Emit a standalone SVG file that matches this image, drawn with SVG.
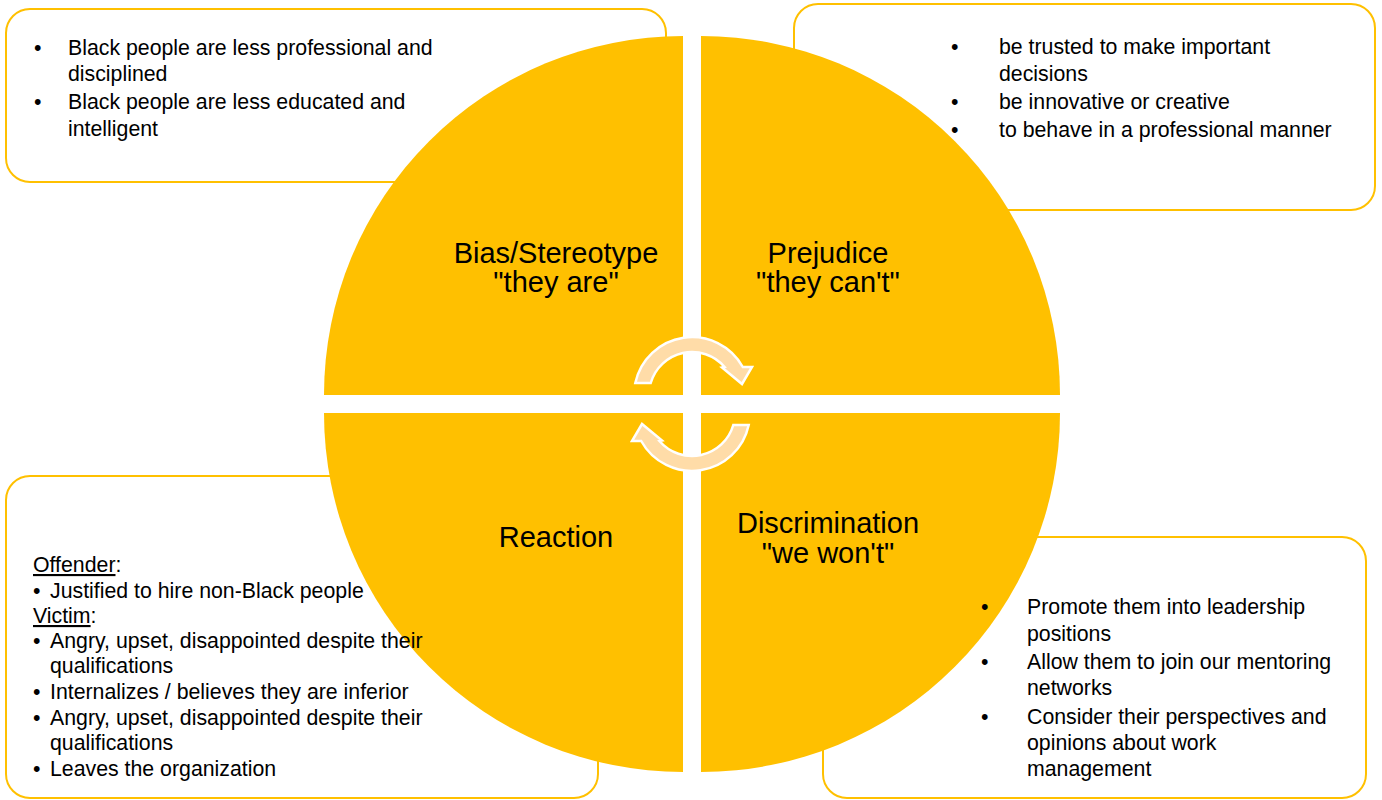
<svg xmlns="http://www.w3.org/2000/svg" width="1382" height="800" viewBox="0 0 1382 800">
<style>
.box{fill:#ffffff;stroke:#FFC000;stroke-width:2}
.q{fill:#FFC000}
.arr{fill:#FFDCA8;stroke:#ffffff;stroke-width:2.5;stroke-linejoin:miter}
.lbl{font-family:"Liberation Sans",Arial,sans-serif;font-size:29px;fill:#000;text-anchor:middle}
.t{font-family:"Liberation Sans",Arial,sans-serif;font-size:21.3px;fill:#000}
</style>
<rect width="1382" height="800" fill="#ffffff"/>
<g id="box-bias"><rect class="box" x="6" y="9" width="660" height="173" rx="24"/></g>
<g id="box-prejudice"><rect class="box" x="794" y="4" width="581" height="206" rx="24"/></g>
<g id="box-reaction"><rect class="box" x="6" y="476" width="592" height="322" rx="24"/></g>
<g id="box-discrimination"><rect class="box" x="823" y="537" width="543" height="261" rx="24"/></g>
<g id="quadrant-bias"><path class="q" d="M683 395 L324 395 A359 359 0 0 1 683 36 Z"/></g>
<g id="quadrant-prejudice"><path class="q" d="M701 395 L701 36 A359 359 0 0 1 1060 395 Z"/></g>
<g id="quadrant-discrimination"><path class="q" d="M701 413 L1060 413 A359 359 0 0 1 701 772 Z"/></g>
<g id="quadrant-reaction"><path class="q" d="M683 413 L683 772 A359 359 0 0 1 324 413 Z"/></g>
<g id="connectors">
<path id="arrow-top" class="arr" d="M635.3 383 A58 58 0 0 1 742.8 367 L752 367 L742 384 L722 367.5 L724.6 367 A43 43 0 0 0 650.7 383 Z"/>
<path id="arrow-bottom" class="arr" transform="rotate(180 692 404)" d="M635.3 383 A58 58 0 0 1 742.8 367 L752 367 L742 384 L722 367.5 L724.6 367 A43 43 0 0 0 650.7 383 Z"/>
</g>
<g id="label-bias"><text class="lbl" x="556" y="263">Bias/Stereotype</text><text class="lbl" x="556" y="292">"they are"</text></g>
<g id="label-prejudice"><text class="lbl" x="828" y="263">Prejudice</text><text class="lbl" x="828" y="292">"they can't"</text></g>
<g id="label-reaction"><text class="lbl" x="556" y="547">Reaction</text></g>
<g id="label-discrimination"><text class="lbl" x="828" y="533">Discrimination</text><text class="lbl" x="828" y="563">"we won't"</text></g>
<g id="text-bias">
<text class="t" x="34" y="55">•</text><text class="t" x="68" y="55">Black people are less professional and</text>
<text class="t" x="68" y="81">disciplined</text>
<text class="t" x="34" y="109">•</text><text class="t" x="68" y="109">Black people are less educated and</text>
<text class="t" x="68" y="136">intelligent</text>
</g>
<g id="text-prejudice">
<text class="t" x="951" y="54">•</text><text class="t" x="999" y="54">be trusted to make important</text>
<text class="t" x="999" y="81">decisions</text>
<text class="t" x="951" y="109">•</text><text class="t" x="999" y="109">be innovative or creative</text>
<text class="t" x="951" y="137">•</text><text class="t" x="999" y="137">to behave in a professional manner</text>
</g>
<g id="text-reaction">
<text class="t" x="33" y="572"><tspan text-decoration="underline">Offender</tspan>:</text>
<text class="t" x="33" y="598">•</text><text class="t" x="50" y="598">Justified to hire non-Black people</text>
<text class="t" x="33" y="623"><tspan text-decoration="underline">Victim</tspan>:</text>
<text class="t" x="33" y="648">•</text><text class="t" x="50" y="648">Angry, upset, disappointed despite their</text>
<text class="t" x="50" y="673">qualifications</text>
<text class="t" x="33" y="699">•</text><text class="t" x="50" y="699">Internalizes / believes they are inferior</text>
<text class="t" x="33" y="725">•</text><text class="t" x="50" y="725">Angry, upset, disappointed despite their</text>
<text class="t" x="50" y="750">qualifications</text>
<text class="t" x="33" y="776">•</text><text class="t" x="50" y="776">Leaves the organization</text>
</g>
<g id="text-discrimination">
<text class="t" x="981" y="614">•</text><text class="t" x="1027" y="614">Promote them into leadership</text>
<text class="t" x="1027" y="641">positions</text>
<text class="t" x="981" y="669">•</text><text class="t" x="1027" y="669">Allow them to join our mentoring</text>
<text class="t" x="1027" y="695">networks</text>
<text class="t" x="981" y="724">•</text><text class="t" x="1027" y="724">Consider their perspectives and</text>
<text class="t" x="1027" y="750">opinions about work</text>
<text class="t" x="1027" y="776">management</text>
</g>
</svg>
